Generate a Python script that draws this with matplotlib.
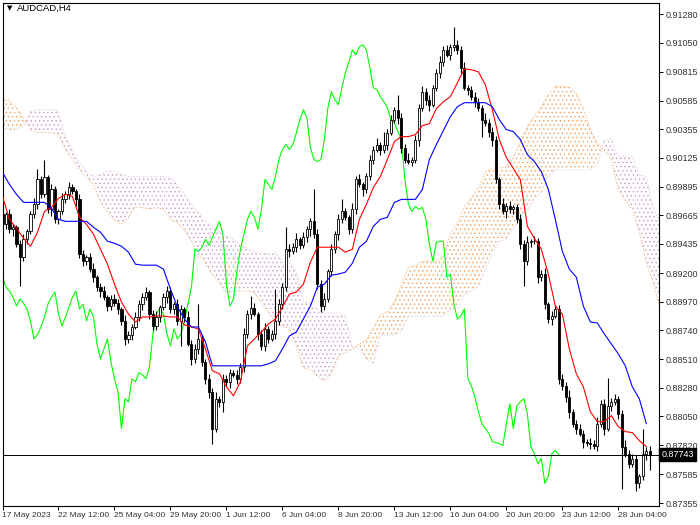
import matplotlib
matplotlib.use("Agg")
import matplotlib.pyplot as plt
import matplotlib.transforms as mtransforms
import numpy as np

# ---------------- data ----------------
symbol = "AUDCAD,H4"
bid = 0.87743
first_open = 0.89672

close = [
    0.89592, 0.89672, 0.89552, 0.89568, 0.89432, 0.89328, 0.89472, 0.89536, 0.89672, 0.89752,
    0.89952, 0.89832, 0.89968, 0.89712, 0.89872, 0.89632, 0.89696, 0.89792, 0.89832, 0.89888,
    0.89856, 0.89792, 0.89352, 0.89296, 0.89328, 0.89232, 0.89168, 0.89088, 0.89056, 0.89008,
    0.88936, 0.88992, 0.88960, 0.88912, 0.88816, 0.88672, 0.88704, 0.88768, 0.88848, 0.88952,
    0.89008, 0.89048, 0.88872, 0.88776, 0.88848, 0.88928, 0.89008, 0.89056, 0.88912, 0.88952,
    0.88816, 0.88912, 0.88848, 0.88632, 0.88512, 0.88592, 0.88672, 0.88488, 0.88352, 0.88248,
    0.87952, 0.88192, 0.88168, 0.88352, 0.88328, 0.88400, 0.88384, 0.88352, 0.88448, 0.88712,
    0.88872, 0.88920, 0.88872, 0.88712, 0.88616, 0.88752, 0.88672, 0.88712, 0.88816, 0.88952,
    0.89088, 0.89392, 0.89376, 0.89408, 0.89472, 0.89424, 0.89488, 0.89552, 0.89616, 0.89512,
    0.89112, 0.88936, 0.88992, 0.89216, 0.89392, 0.89512, 0.89632, 0.89696, 0.89648, 0.89552,
    0.89712, 0.89952, 0.89912, 0.89872, 0.89976, 0.90112, 0.90192, 0.90232, 0.90192, 0.90232,
    0.90328, 0.90432, 0.90512, 0.90448, 0.90208, 0.90112, 0.90096, 0.90112, 0.90272, 0.90528,
    0.90656, 0.90592, 0.90552, 0.90688, 0.90808, 0.90896, 0.90992, 0.90952, 0.91016, 0.91032,
    0.90992, 0.90848, 0.90688, 0.90672, 0.90616, 0.90576, 0.90528, 0.90432, 0.90408, 0.90336,
    0.90272, 0.89952, 0.89752, 0.89696, 0.89736, 0.89712, 0.89728, 0.89632, 0.89432, 0.89296,
    0.89448, 0.89456, 0.89456, 0.89168, 0.89192, 0.88952, 0.88832, 0.88856, 0.88912, 0.88352,
    0.88296, 0.88208, 0.88088, 0.87992, 0.87952, 0.87912, 0.87848, 0.87840, 0.87832, 0.87816,
    0.87992, 0.88152, 0.87952, 0.88136, 0.88168, 0.88192, 0.88072, 0.87808, 0.87752, 0.87672,
    0.87712, 0.87512, 0.87568, 0.87752, 0.87776, 0.87743,
]

upper_wick_pips = [
    3, 2, 4, 3, 2, 3, 4, 2, 3, 5,
    8, 3, 14, 2, 4, 3, 2, 5, 3, 4,
    3, 2, 4, 3, 2, 3, 5, 2, 3, 4,
    2, 3, 4, 3, 2, 5, 3, 2, 4, 3,
    3, 4, 2, 3, 5, 2, 3, 4, 3, 2,
    4, 3, 2, 5, 3, 4, 28, 3, 2, 4,
    3, 5, 2, 4, 3, 3, 2, 4, 3, 5,
    3, 10, 4, 2, 3, 5, 2, 3, 26, 4,
    3, 18, 4, 3, 5, 2, 4, 3, 3, 26,
    4, 3, 5, 2, 4, 3, 4, 10, 3, 2,
    5, 3, 4, 2, 3, 4, 3, 5, 2, 10,
    3, 4, 2, 12, 4, 3, 5, 2, 4, 3,
    5, 3, 4, 2, 3, 5, 3, 4, 2, 14,
    4, 3, 5, 2, 3, 4, 3, 2, 5, 3,
    4, 3, 2, 5, 3, 4, 2, 3, 4, 3,
    5, 2, 4, 3, 3, 5, 2, 4, 3, 3,
    4, 3, 5, 2, 3, 4, 3, 2, 4, 3,
    5, 3, 4, 22, 3, 4, 2, 3, 5, 3,
    4, 3, 2, 20, 3, 4,
]

lower_wick_pips = [
    2, 4, 3, 5, 2, 23, 3, 4, 2, 3,
    4, 3, 2, 3, 5, 3, 4, 2, 3, 4,
    2, 5, 3, 4, 3, 2, 4, 3, 5, 2,
    4, 3, 2, 4, 3, 5, 3, 4, 2, 3,
    5, 2, 4, 3, 3, 4, 2, 5, 3, 4,
    3, 20, 4, 2, 5, 3, 4, 3, 4, 5,
    12, 3, 4, 8, 3, 5, 2, 4, 3, 4,
    3, 4, 2, 5, 3, 4, 3, 2, 4, 3,
    4, 3, 5, 2, 4, 3, 2, 4, 5, 3,
    4, 5, 3, 2, 4, 3, 5, 3, 2, 4,
    3, 4, 2, 5, 3, 3, 4, 2, 4, 3,
    4, 2, 3, 5, 4, 3, 2, 4, 3, 5,
    3, 4, 5, 2, 3, 4, 3, 2, 4, 3,
    3, 5, 2, 4, 3, 4, 3, 14, 3, 4,
    5, 3, 4, 2, 5, 3, 4, 3, 4, 20,
    3, 4, 2, 5, 3, 4, 3, 5, 2, 4,
    3, 4, 5, 3, 4, 2, 5, 3, 4, 3,
    4, 3, 5, 2, 4, 3, 4, 34, 3, 4,
    3, 6, 4, 3, 5, 12,
]

# Tenkan-sen / Kijun-sen, read every 2nd bar (bars 0, 2, ..., 184)
tenkan = [
    0.89816, 0.89632, 0.89560, 0.89480, 0.89416, 0.89528, 0.89696, 0.89728, 0.89800, 0.89832,
    0.89816, 0.89648, 0.89592, 0.89512, 0.89392, 0.89272, 0.89112, 0.88968, 0.88872, 0.88808,
    0.88848, 0.88848, 0.88856, 0.88856, 0.88848, 0.88848, 0.88784, 0.88768, 0.88752, 0.88592,
    0.88416, 0.88392, 0.88288, 0.88216, 0.88328, 0.88616, 0.88672, 0.88728, 0.88792, 0.88832,
    0.88928, 0.89032, 0.89048, 0.89112, 0.89288, 0.89408, 0.89408, 0.89408, 0.89408, 0.89368,
    0.89392, 0.89632, 0.89752, 0.89888, 0.89976, 0.90112, 0.90256, 0.90296, 0.90296, 0.90312,
    0.90384, 0.90400, 0.90520, 0.90576, 0.90616, 0.90728, 0.90840, 0.90832, 0.90816, 0.90712,
    0.90512, 0.90272, 0.90128, 0.90040, 0.89952, 0.89576, 0.89480, 0.89392, 0.89192, 0.88936,
    0.88872, 0.88592, 0.88392, 0.88288, 0.88088, 0.88008, 0.88008, 0.88056, 0.87968, 0.87928,
    0.87920, 0.87856, 0.87808,
]
kijun = [
    0.90008, 0.89912, 0.89832, 0.89768, 0.89768, 0.89768, 0.89768, 0.89720, 0.89632, 0.89616,
    0.89616, 0.89616, 0.89616, 0.89568, 0.89528, 0.89456, 0.89440, 0.89416, 0.89368, 0.89272,
    0.89264, 0.89264, 0.89264, 0.89232, 0.89072, 0.88928, 0.88832, 0.88768, 0.88768, 0.88648,
    0.88456, 0.88456, 0.88456, 0.88456, 0.88456, 0.88456, 0.88456, 0.88456, 0.88472, 0.88496,
    0.88592, 0.88696, 0.88728, 0.88832, 0.88936, 0.89088, 0.89112, 0.89184, 0.89192, 0.89208,
    0.89280, 0.89408, 0.89456, 0.89576, 0.89632, 0.89648, 0.89768, 0.89792, 0.89792, 0.89792,
    0.89872, 0.90112, 0.90232, 0.90344, 0.90456, 0.90536, 0.90568, 0.90568, 0.90568, 0.90568,
    0.90536, 0.90432, 0.90352, 0.90336, 0.90272, 0.90152, 0.90096, 0.90016, 0.89872, 0.89632,
    0.89376, 0.89232, 0.89168, 0.88936, 0.88808, 0.88800, 0.88712, 0.88632, 0.88552, 0.88456,
    0.88288, 0.88192, 0.87992,
]
# Senkou spans at the left edge (before the 26/52-bar history is on screen), every 2nd bar
span_a_lead = [0.90592, 0.90584, 0.90528, 0.90448, 0.90352, 0.90328, 0.90328, 0.90328,
               0.90312, 0.90192, 0.90112, 0.90032, 0.89968]
span_b_lead = [0.90368, 0.90352, 0.90352, 0.90384, 0.90496, 0.90512, 0.90512, 0.90512,
               0.90496, 0.90296, 0.90192, 0.90088, 0.90016, 0.89976, 0.89992, 0.90016,
               0.90016, 0.89992, 0.89976, 0.89976, 0.89976, 0.89976, 0.89976, 0.89976,
               0.89968, 0.89912, 0.89832, 0.89752, 0.89688, 0.89616, 0.89568, 0.89528,
               0.89496, 0.89472, 0.89432, 0.89392, 0.89368, 0.89368, 0.89352]

date_labels = ["17 May 2023", "22 May 12:00", "25 May 04:00", "29 May 20:00", "1 Jun 12:00",
               "6 Jun 04:00", "8 Jun 20:00", "13 Jun 12:00", "16 Jun 04:00", "20 Jun 20:00",
               "23 Jun 12:00", "28 Jun 04:00"]
label_every = 16
price_ticks = [0.91280, 0.91050, 0.90815, 0.90585, 0.90355, 0.90125, 0.89895, 0.89665,
               0.89435, 0.89200, 0.88970, 0.88740, 0.88510, 0.88280, 0.88050, 0.87820,
               0.87585, 0.87355]

tenkan_period, kijun_period, senkou_period = 9, 26, 52

# ---------------- derived series ----------------
close = np.array(close)
n = len(close)
opens = np.concatenate([[first_open], close[:-1]])
highs = np.maximum(opens, close) + np.array(upper_wick_pips) * 1e-4
lows = np.minimum(opens, close) - np.array(lower_wick_pips) * 1e-4
bars = np.arange(n)

tk_x = np.arange(0, 2 * len(tenkan), 2)
tenkan = np.array(tenkan)
kijun = np.array(kijun)

cloud_x = np.arange(0, 190, 2)
span_a = []
span_b = []
for k, i in enumerate(cloud_x):
    if k < len(span_a_lead):
        span_a.append(span_a_lead[k])
    else:
        j = (i - kijun_period) // 2
        span_a.append((tenkan[j] + kijun[j]) / 2)
    if k < len(span_b_lead):
        span_b.append(span_b_lead[k])
    else:
        lo = i - kijun_period - senkou_period + 1
        hi = i - kijun_period + 1
        span_b.append((highs[lo:hi].max() + lows[lo:hi].min()) / 2)
span_a = np.array(span_a)
span_b = np.array(span_b)

# ---------------- figure ----------------
W, H = 700, 525
fig = plt.figure(figsize=(W / 100, H / 100), dpi=100)
fig.patch.set_facecolor("white")
ax_l, ax_r, ax_t, ax_b = 2.5, 659.0, 3.0, 506.0
ax = fig.add_axes([ax_l / W, 1 - ax_b / H, (ax_r - ax_l) / W, (ax_b - ax_t) / H])

# price scale derived from the labelled ticks (0.91280 at px 14, 0.87355 at px 503)
ppx = (price_ticks[0] - price_ticks[-1]) / (503 - 14)
ax.set_ylim(price_ticks[-1] - (ax_b - 503) * ppx, price_ticks[0] + (14 - ax_t) * ppx)
bar_px, x0_px = 3.5, 2.3
ax.set_xlim((ax_l - x0_px) / bar_px, (ax_r - x0_px) / bar_px)

plt.rcParams["hatch.linewidth"] = 0.55
sandy, thistle = "#F4A460", "#D8BFD8"
ax.fill_between(cloud_x, span_a, span_b, where=span_a >= span_b, interpolate=True,
                facecolor="none", edgecolor=sandy, hatch="....", linewidth=0, zorder=1)
ax.fill_between(cloud_x, span_a, span_b, where=span_a < span_b, interpolate=True,
                facecolor="none", edgecolor="#C8A0C8", hatch="....", linewidth=0, zorder=1)
ax.plot(cloud_x, span_a, color=sandy, lw=0.7, ls=(0, (1, 2)), zorder=1.5)
ax.plot(cloud_x, span_b, color=thistle, lw=0.7, ls=(0, (1, 2)), zorder=1.5)

# chikou span: close shifted back 26 bars
ax.plot(bars[:n - kijun_period], close[kijun_period:], color="#00FF00", lw=0.8, zorder=2)

# candles
ax.vlines(bars, lows, highs, color="black", lw=0.8, zorder=3)
up = close >= opens
ax.bar(bars[up], (close - opens)[up], bottom=opens[up], width=0.6, color="white",
       edgecolor="black", linewidth=0.6, zorder=4)
ax.bar(bars[~up], (close - opens)[~up], bottom=opens[~up], width=0.6, color="black",
       edgecolor="black", linewidth=0.6, zorder=4)

ax.plot(tk_x, tenkan, color="#FF0000", lw=0.8, zorder=5)
ax.plot(tk_x, kijun, color="#0000FF", lw=0.8, zorder=5)

# bid line
ax.axhline(bid, color="black", lw=0.7, zorder=6)

# axes styling
for s in ax.spines.values():
    s.set_color("black")
    s.set_linewidth(0.8)
ax.yaxis.tick_right()
ax.set_yticks(price_ticks)
ax.set_yticklabels([f"{p:.5f}" for p in price_ticks])
ax.tick_params(axis="y", direction="out", length=3, width=0.7, pad=2,
               labelsize=6.5, labelcolor="#333333")
ax.set_xticks(np.arange(len(date_labels)) * label_every)
ax.set_xticklabels(date_labels, ha="left")
ax.tick_params(axis="x", direction="out", length=3, width=0.7, pad=1.5,
               labelsize=6.0, labelcolor="#333333")
for lab in ax.get_xticklabels() + ax.get_yticklabels():
    lab.set_fontfamily("Liberation Sans")

trans = mtransforms.blended_transform_factory(ax.transAxes, ax.transData)
ax.text(1.004, bid, f"{bid:.5f}", transform=trans, ha="left", va="center",
        fontsize=6.5, family="Liberation Sans", color="white",
        bbox=dict(boxstyle="square,pad=0.25", fc="black", ec="black"), zorder=10,
        clip_on=False)

ax.text(4 / (ax_r - ax_l), 1 - 5 / (ax_b - ax_t), "\u25BC", transform=ax.transAxes,
        fontsize=5, va="center", ha="left", family="DejaVu Sans")
ax.text(14 / (ax_r - ax_l), 1 - 5.5 / (ax_b - ax_t), symbol, transform=ax.transAxes,
        fontsize=6.8, va="center", ha="left", family="Liberation Sans")

fig.savefig("out.png", dpi=100)
